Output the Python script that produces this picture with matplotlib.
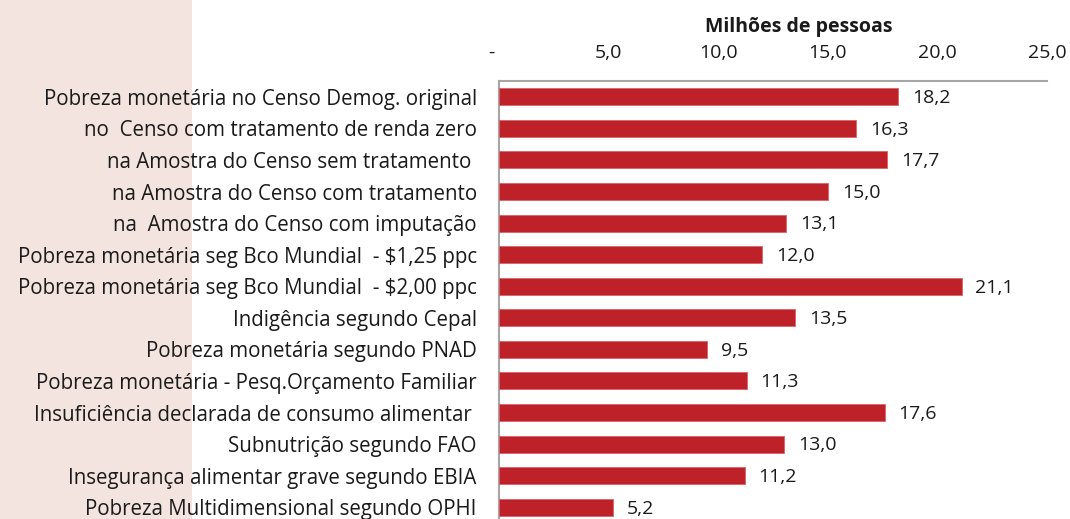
import matplotlib
matplotlib.use("Agg")
import matplotlib.pyplot as plt
import matplotlib.patches as mpatches
from matplotlib.transforms import offset_copy

categories = [
    "Pobreza monetária no Censo Demog. original",
    "no  Censo com tratamento de renda zero",
    "na Amostra do Censo sem tratamento ",
    "na Amostra do Censo com tratamento",
    "na  Amostra do Censo com imputação",
    "Pobreza monetária seg Bco Mundial  - $1,25 ppc",
    "Pobreza monetária seg Bco Mundial  - $2,00 ppc",
    "Indigência segundo Cepal",
    "Pobreza monetária segundo PNAD",
    "Pobreza monetária - Pesq.Orçamento Familiar",
    "Insuficiência declarada de consumo alimentar ",
    "Subnutrição segundo FAO",
    "Insegurança alimentar grave segundo EBIA",
    "Pobreza Multidimensional segundo OPHI",
]
values = [18.2, 16.3, 17.7, 15.0, 13.1, 12.0, 21.1, 13.5, 9.5, 11.3, 17.6, 13.0, 11.2, 5.2]
xticks = [0, 5, 10, 15, 20, 25]
xtick_labels = ["-", "5,0", "10,0", "15,0", "20,0", "25,0"]
axis_title = "Milhões de pessoas"

FONT = "Open Sans"
plt.rcParams["font.family"] = [FONT, "DejaVu Sans"]

W, H = 1070, 519
fig = plt.figure(figsize=(W / 100, H / 100), dpi=100)
fig.patch.set_facecolor("white")

# pink stripe on the left
fig.patches.append(mpatches.Rectangle((0, 0), 192 / W, 1, transform=fig.transFigure,
                                      facecolor="#F4E4DF", edgecolor="none", zorder=-5))

left, right = 499 / W, 1047 / W
top = 1 - 81 / H
bottom = 1 - 523 / H
ax = fig.add_axes([left, bottom, right - left, top - bottom])
ax.patch.set_alpha(0)
ax.set_zorder(2)

n = len(categories)
pos = list(range(n))
ax.barh(pos, values, height=0.54, color="#BE2127", edgecolor="#D9656A", linewidth=0.6, zorder=3)
ax.set_ylim(n - 0.5, -0.5)
ax.set_xlim(0, 25)

for p, v in zip(pos, values):
    ax.annotate(f"{v:.1f}".replace(".", ","), (v, p), xytext=(10, -1), textcoords="offset points",
                ha="left", va="center", fontsize=14, color="#1a1a1a")

ax.set_yticks(pos)
ax.set_yticklabels(categories, fontsize=14.8, color="#1a1a1a", parse_math=False)
ax.tick_params(axis="y", length=0, pad=16)

ax.xaxis.tick_top()
ax.set_xticks(xticks)
ax.set_xticklabels(xtick_labels, fontsize=14, color="#1a1a1a")
ax.tick_params(axis="x", length=0, pad=14)
lbl0 = ax.get_xticklabels()[0]
lbl0.set_transform(offset_copy(lbl0.get_transform(), fig=fig, x=-8, units="dots"))

for s in ["bottom", "right"]:
    ax.spines[s].set_visible(False)
for s in ["top", "left"]:
    ax.spines[s].set_color("#A6A6A6")
    ax.spines[s].set_linewidth(1.5)

fig.text(799 / W, 1 - 27 / H, axis_title, ha="center", va="center", fontsize=14,
         fontweight="bold", color="#1a1a1a")

fig.savefig("out.png", dpi=100)
